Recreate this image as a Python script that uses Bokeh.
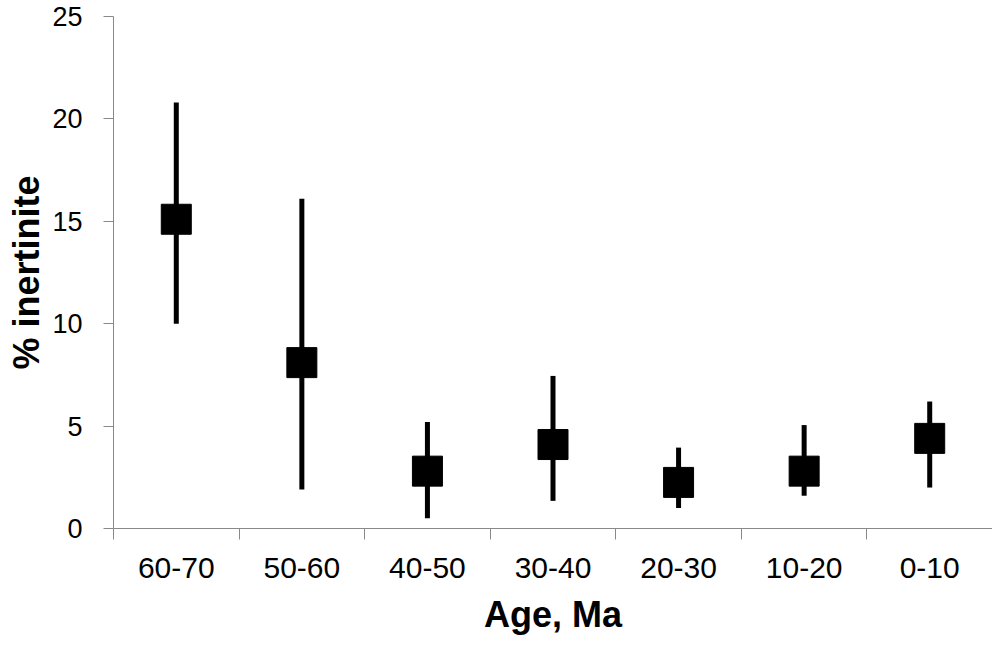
from bokeh.plotting import figure
from bokeh.models import Range1d, FixedTicker
from bokeh.embed import file_html
from bokeh.resources import INLINE

# ---- data ----
categories = ["60-70", "50-60", "40-50", "30-40", "20-30", "10-20", "0-10"]
mean_pct = [15.1, 8.1, 2.8, 4.1, 2.25, 2.8, 4.4]
upper_pct = [20.8, 16.1, 5.2, 7.45, 3.95, 5.05, 6.2]
lower_pct = [10.0, 1.9, 0.5, 1.35, 1.0, 1.6, 2.0]
y_ticks = [0, 5, 10, 15, 20, 25]
x_title = "Age, Ma"
y_title = "% inertinite"

n = len(categories)
x_pos = [i + 0.5 for i in range(n)]
boundaries = list(range(n + 1))

FONT = "Liberation Sans"
AXIS_GRAY = "#898989"

p = figure(width=992, height=637, output_backend="svg", toolbar_location=None,
           x_range=Range1d(0, n), y_range=Range1d(0, 25),
           min_border_left=113, min_border_right=0, min_border_top=16,
           min_border_bottom=109)
p.outline_line_color = None
p.xgrid.visible = False
p.ygrid.visible = False
p.background_fill_color = "white"
p.border_fill_color = "white"

# error bars and markers
p.segment(x0=x_pos, y0=lower_pct, x1=x_pos, y1=upper_pct,
          line_width=5, line_color="black")
p.scatter(x_pos, mean_pct, marker="square", size=30,
          fill_color="black", line_color="black")

# x axis: labels at category centres, tick marks at category boundaries
xa = p.xaxis[0]
xa.ticker = FixedTicker(ticks=x_pos, minor_ticks=boundaries)
xa.major_label_overrides = {x: c for x, c in zip(x_pos, categories)}
xa.major_tick_out = 0
xa.major_tick_in = 0
xa.minor_tick_out = 11
xa.minor_tick_in = 0
xa.minor_tick_line_color = AXIS_GRAY
xa.axis_line_color = AXIS_GRAY
xa.major_label_text_font = FONT
xa.major_label_text_font_size = "30px"
xa.major_label_text_color = "black"
xa.major_label_standoff = 18
xa.axis_label = x_title
xa.axis_label_text_font = FONT
xa.axis_label_text_font_style = "bold"
xa.axis_label_text_font_size = "36px"
xa.axis_label_text_color = "black"
xa.axis_label_standoff = 13

ya = p.yaxis[0]
ya.ticker = FixedTicker(ticks=y_ticks, minor_ticks=[])
ya.major_tick_out = 10
ya.major_tick_in = 0
ya.major_tick_line_color = AXIS_GRAY
ya.axis_line_color = AXIS_GRAY
ya.major_label_text_font = FONT
ya.major_label_text_font_size = "27px"
ya.major_label_text_color = "black"
ya.major_label_standoff = 21
ya.axis_label = y_title
ya.axis_label_text_font = FONT
ya.axis_label_text_font_style = "bold"
ya.axis_label_text_font_size = "36px"
ya.axis_label_text_color = "black"
ya.axis_label_standoff = 2

open("out.html", "w").write(file_html(p, INLINE))
